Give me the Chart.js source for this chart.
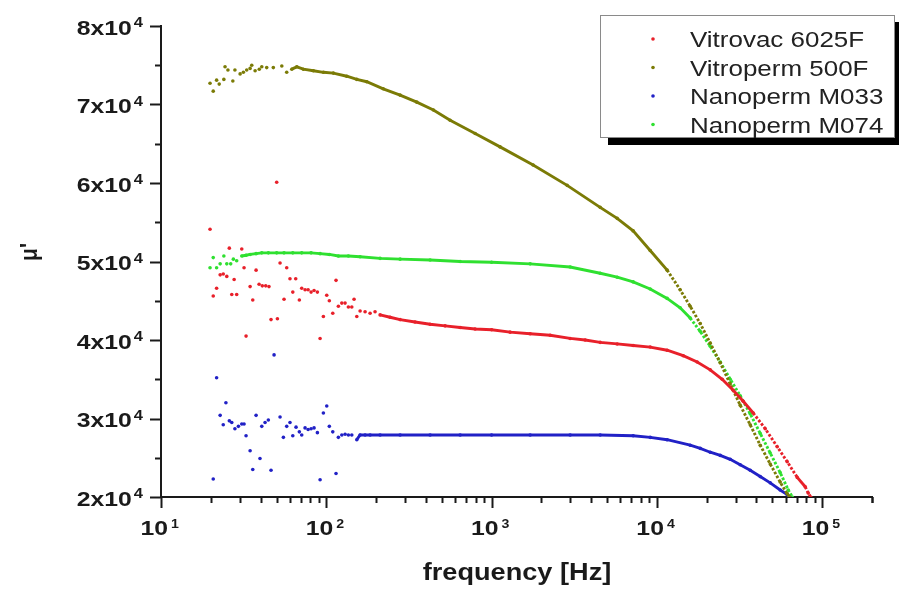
<!DOCTYPE html>
<html>
<head>
<meta charset="utf-8">
<script src="https://cdn.jsdelivr.net/npm/chart.js@4.4.1/dist/chart.umd.min.js"></script>
<style>
  html, body { margin: 0; padding: 0; background: #fff; }
  #wrap { width: 899px; height: 589px; }
</style>
</head>
<body>
<div id="wrap"><canvas id="permChart" width="899" height="589"></canvas></div>
<script>
// Real part of the permeability (mu') against frequency for four core materials

const vitrovacFreq = [19.8, 20.7, 21.7, 22.8, 23.8, 25.0, 25.9, 26.8, 27.7, 28.7, 30.8, 31.8, 32.7, 34.6, 35.9, 37.6, 39.2, 41.0, 43.0, 45.0,
  46.3, 50.1, 50.6, 52.5, 55.5, 57.6, 60.3, 62.7, 65.3, 68.7, 71.0, 74.4, 77.6, 80.9, 84.3, 88.3, 91.7, 96.0, 100.6, 104.3,
  109.4, 114.5, 118.3, 124.1, 129.9, 136.0, 142.6, 147.2, 152.9, 160.1, 171.6, 184.0, 197.2, 211.5, 243.1, 279.5, 344, 424.5, 523, 645,
  795, 1000, 1294, 1710, 2260, 2985, 3680, 4536, 5748, 7182, 9105, 11530, 14420, 17520, 21010, 24830, 28930, 33260, 38230, 45190,
  53430, 61400, 70600, 78900, 82300, 85800];
const vitrovacMu = [54100, 45600, 46600, 48300, 48400, 48100, 51700, 45800, 47700, 45800, 51600, 49200, 40500, 46800, 45100, 48900, 47100, 46900, 46900, 46800,
  42600, 60100, 42700, 49800, 45200, 49200, 47800, 46100, 47800, 45100, 46600, 46400, 46400, 46100, 46300, 46100, 40200, 43000, 45700, 45000,
  43400, 47600, 44300, 44700, 44700, 44200, 44200, 45200, 43000, 43700, 43600, 43400, 43600, 43200, 42900, 42600, 42300, 42000, 41800, 41600,
  41400, 41300, 41000, 40800, 40600, 40200, 40000, 39700, 39500, 39300, 39100, 38700, 38000, 37200, 36200, 35000, 33600, 32200, 30700, 28700,
  26400, 24500, 22500, 21300, 20500, 19900];

const vitropermFreq = [19.8, 20.7, 21.7, 22.5, 24.0, 24.4, 25.4, 27.2, 28.0, 30.1, 31.5, 33.0, 34.6, 35.4, 37.1, 39.3, 40.7, 43.6, 47.8, 53.8,
  57.6, 61.8, 66.3, 72.6, 83.5, 96.0, 110.3, 133, 153, 175.7, 221, 279.5, 352.7, 444.5, 561, 795, 1125, 1783, 2863, 4536,
  5748, 7182, 9105, 11530, 13822, 15895, 18275, 21010, 24150, 27750, 31900, 36670, 42150, 48460, 55700, 61400, 64040];
const vitropermMu = [72700, 71700, 73100, 72600, 73200, 74800, 74400, 73000, 74400, 73900, 74100, 74400, 74600, 75000, 74300, 74500, 74800, 74700, 74700, 74900,
  74100, 74500, 74800, 74500, 74300, 74100, 74000, 73600, 73200, 72900, 72000, 71200, 70300, 69300, 68000, 66300, 64600, 62300, 59700, 56900,
  55500, 53900, 51400, 48900, 46400, 44300, 42100, 39600, 37100, 34400, 31700, 29200, 26600, 24200, 21900, 20400, 19900];

const m033Freq = [20.7, 21.7, 22.8, 23.8, 24.7, 25.9, 26.8, 28.0, 29.4, 30.8, 31.8, 32.7, 34.6, 35.9, 37.6, 39.7, 40.7, 42.6, 44.6, 46.3,
  48.3, 52.5, 55.0, 57.6, 60.3, 62.7, 65.6, 68.7, 71.0, 74.4, 77.6, 80.9, 84.3, 88.3, 91.7, 96.0, 100.6, 104.3, 109.4, 114.5,
  118.3, 124.1, 129.9, 136.0, 142.6, 152.9, 160.1, 171.6, 184.0, 211.5, 279.5, 424.5, 645, 1000, 1710, 2985, 4536, 7182, 9105, 11530,
  15895, 18275, 21010, 24150, 27750, 31900, 36670, 42150, 48460, 55700, 61400, 64040];
const m033Mu = [22300, 35200, 30400, 29200, 32000, 29700, 29500, 28700, 29000, 29300, 29300, 27800, 25900, 23500, 30400, 24900, 29000, 29500, 29800, 23400,
  38100, 30200, 27600, 29000, 29500, 27800, 28900, 28300, 27900, 28800, 28600, 28700, 28800, 28200, 22200, 30700, 31600, 29000, 28300, 23000,
  27600, 27900, 28000, 27900, 27900, 27300, 27900, 27900, 27900, 27900, 27900, 27900, 27900, 27900, 27900, 27900, 27900, 27800, 27600, 27300,
  26600, 26200, 25700, 25300, 24800, 24100, 23400, 22600, 21800, 20900, 20300, 19900];

const m074Freq = [19.8, 20.7, 21.7, 22.8, 24.0, 25.0, 26.4, 27.4, 28.7, 30.8, 32.7, 34.6, 37.6, 40.7, 44.6, 50.1, 55.5, 62.7, 71.0, 80.9,
  91.7, 104.3, 118.3, 136.0, 160.1, 211.5, 279.5, 424.5, 645, 1000, 1710, 2985, 4536, 5748, 7182, 9105, 11530, 13822, 15895, 18275,
  21010, 24150, 27750, 31900, 36670, 42150, 48460, 55700, 62290, 65850];
const m074Mu = [49200, 50500, 49200, 49700, 50700, 49700, 49700, 50300, 50100, 50700, 50800, 50900, 51000, 51100, 51100, 51100, 51100, 51100, 51100, 51100,
  51000, 50900, 50700, 50700, 50600, 50400, 50300, 50200, 50000, 49900, 49700, 49300, 48500, 48000, 47400, 46500, 45300, 44100, 42800, 41100,
  39200, 37200, 35000, 32900, 30600, 28100, 25600, 23100, 20900, 20000];

const seriesNames = ['Vitrovac 6025F', 'Vitroperm 500F', 'Nanoperm M033', 'Nanoperm M074'];
const seriesColors = ['#e8202a', '#7b7b06', '#2121c6', '#2fe030'];

const yTicks = [20000, 30000, 40000, 50000, 60000, 70000, 80000];
const xDecades = [10, 100, 1000, 10000, 100000];

const TEXT_STRETCH = 1.18;
const FONT = '"Liberation Sans", Arial, Helvetica, sans-serif';

function toPoints(freq, mu) {
  return freq.map((f, i) => ({ x: f, y: mu[i] }));
}

// connect the measured points once the noise at low frequency settles;
// steep roll-off parts get a dotted look
function makeSeries(label, color, freq, mu, lineFrom, dotted) {
  return {
    label: label,
    data: toPoints(freq, mu),
    showLine: true,
    borderColor: color,
    backgroundColor: color,
    borderWidth: 2.9,
    pointRadius: 1.8,
    pointBorderWidth: 0,
    pointHoverRadius: 0,
    segment: {
      borderColor: c => (c.p0.parsed.x < lineFrom ? 'rgba(0,0,0,0)' : color),
      borderDash: c => {
        if (!dotted) return undefined;
        const dx = Math.abs(c.p1.x - c.p0.x);
        const dy = Math.abs(c.p1.y - c.p0.y);
        return dy > 1.2 * dx ? [2.6, 1.8] : undefined;
      }
    }
  };
}

function stretchedText(ctx, str, x, y, font, align) {
  ctx.save();
  ctx.translate(x, y);
  ctx.scale(TEXT_STRETCH, 1);
  ctx.font = font;
  ctx.textAlign = align;
  ctx.textBaseline = 'alphabetic';
  ctx.fillText(str, 0, 0);
  ctx.restore();
}

const axisDecor = {
  id: 'axisDecor',
  afterDraw(chart) {
    const ctx = chart.ctx;
    const xs = chart.scales.x;
    const ys = chart.scales.y;
    const area = chart.chartArea;
    ctx.save();
    ctx.strokeStyle = '#1a1a1a';
    ctx.fillStyle = '#1a1a1a';
    ctx.lineWidth = 2;

    // x axis tick marks: decades long, intermediate values short
    xDecades.forEach(d => {
      for (let m = 1; m <= 9; m++) {
        const v = d * m;
        if (v > xs.max) break;
        const px = Math.round(xs.getPixelForValue(v)) + 0.5;
        const len = m === 1 ? 11 : 6;
        ctx.beginPath();
        ctx.moveTo(px, area.bottom);
        ctx.lineTo(px, area.bottom + len);
        ctx.stroke();
      }
    });
    const endX = Math.round(xs.getPixelForValue(xs.max)) + 0.5;
    ctx.beginPath();
    ctx.moveTo(endX, area.bottom);
    ctx.lineTo(endX, area.bottom + 6);
    ctx.stroke();

    // y axis tick marks
    yTicks.forEach((v, i) => {
      const py = Math.round(ys.getPixelForValue(v)) + 0.5;
      ctx.beginPath();
      ctx.moveTo(area.left, py);
      ctx.lineTo(area.left - 11, py);
      ctx.stroke();
      if (i < yTicks.length - 1) {
        const pm = Math.round(ys.getPixelForValue(v + 5000)) + 0.5;
        ctx.beginPath();
        ctx.moveTo(area.left, pm);
        ctx.lineTo(area.left - 6, pm);
        ctx.stroke();
      }
    });

    // y tick labels like 5x10^4
    yTicks.forEach(v => {
      const py = ys.getPixelForValue(v);
      const right = area.left - 18;
      ctx.font = 'bold 14px ' + FONT;
      const supW = ctx.measureText('4').width * TEXT_STRETCH;
      stretchedText(ctx, '4', right, py + 1, 'bold 14px ' + FONT, 'right');
      stretchedText(ctx, (v / 10000) + 'x10', right - supW - 2, py + 8.5, 'bold 21px ' + FONT, 'right');
    });

    // x tick labels like 10^3
    xDecades.forEach(d => {
      const px = xs.getPixelForValue(d);
      const exp = String(Math.round(Math.log10(d)));
      stretchedText(ctx, '10', px + 7, area.bottom + 38, 'bold 21px ' + FONT, 'right');
      stretchedText(ctx, exp, px + 10, area.bottom + 31, 'bold 12px ' + FONT, 'left');
    });

    // axis titles
    stretchedText(ctx, 'frequency [Hz]', 517, 580, 'bold 23px ' + FONT, 'center');
    ctx.save();
    ctx.translate(30, 252);
    ctx.scale(TEXT_STRETCH, 1);
    ctx.rotate(-Math.PI / 2);
    ctx.font = 'bold 21px ' + FONT;
    ctx.textAlign = 'center';
    ctx.textBaseline = 'middle';
    ctx.fillText('\u03bc\'', 0, 0);
    ctx.restore();

    // legend box with drop shadow
    const box = { x: 600, y: 15, w: 295, h: 123 };
    ctx.fillStyle = '#000';
    ctx.fillRect(box.x + 8, box.y + 7, box.w, box.h);
    ctx.fillStyle = '#fff';
    ctx.fillRect(box.x, box.y, box.w, box.h);
    ctx.strokeStyle = '#8a8a8a';
    ctx.lineWidth = 1;
    ctx.strokeRect(box.x + 0.5, box.y + 0.5, box.w - 1, box.h - 1);
    chart.data.datasets.forEach((ds, i) => {
      const cy = box.y + 24 + i * 28.5;
      ctx.fillStyle = ds.borderColor;
      ctx.beginPath();
      ctx.arc(653, cy, 1.8, 0, Math.PI * 2);
      ctx.fill();
      ctx.fillStyle = '#222';
      stretchedText(ctx, ds.label, 690, cy + 8, '22px ' + FONT, 'left');
    });
    ctx.restore();
  }
};

new Chart(document.getElementById('permChart'), {
  type: 'scatter',
  data: {
    datasets: [
      makeSeries(seriesNames[0], seriesColors[0], vitrovacFreq, vitrovacMu, 200, true),
      makeSeries(seriesNames[1], seriesColors[1], vitropermFreq, vitropermMu, 60, true),
      makeSeries(seriesNames[2], seriesColors[2], m033Freq, m033Mu, 150, false),
      makeSeries(seriesNames[3], seriesColors[3], m074Freq, m074Mu, 30, true)
    ]
  },
  options: {
    responsive: false,
    devicePixelRatio: 1,
    animation: false,
    layout: { padding: { left: 161, top: 26, right: 27, bottom: 92 } },
    plugins: {
      legend: { display: false },
      tooltip: { enabled: false }
    },
    scales: {
      x: {
        type: 'logarithmic',
        min: 10,
        max: 200000,
        afterFit: s => { s.height = 0; },
        ticks: { display: false },
        grid: { display: true, drawOnChartArea: false, drawTicks: false },
        border: { display: true, color: '#1a1a1a', width: 2 }
      },
      y: {
        type: 'linear',
        min: 20000,
        max: 80000,
        afterFit: s => { s.width = 0; },
        ticks: { display: false },
        grid: { display: true, drawOnChartArea: false, drawTicks: false },
        border: { display: true, color: '#1a1a1a', width: 2 }
      }
    }
  },
  plugins: [axisDecor]
});
</script>
</body>
</html>
